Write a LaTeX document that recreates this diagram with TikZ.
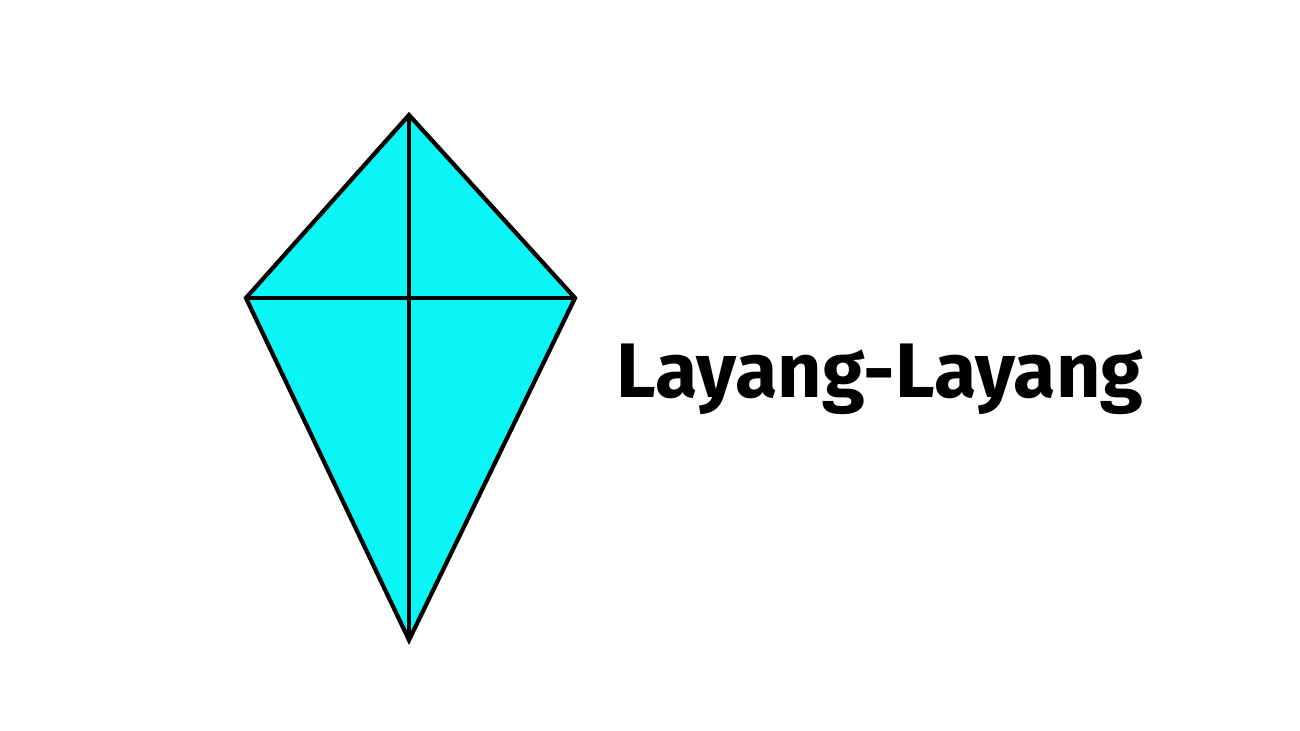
\documentclass[tikz,border=0pt]{standalone}
\usepackage{fontspec}
\setmainfont{Fira Sans}
\usepackage{tikz}
\definecolor{kitecyan}{RGB}{10,245,245}

\begin{document}
\begin{tikzpicture}[
    kite/.style={draw=black, fill=kitecyan, line width=1.2pt, line join=miter},
    diag/.style={draw=black, line width=1.2pt},
    title/.style={font=\fontsize{22}{26}\selectfont\bfseries, anchor=base, inner sep=0pt}
]
\useasboundingbox (0,0) rectangle (13,7.3);
\coordinate (top) at (4.09,6.15);
\coordinate (left) at (2.46,4.32);
\coordinate (right) at (5.75,4.32);
\coordinate (bottom) at (4.09,0.90);
\draw[kite] (top) -- (right) -- (bottom) -- (left) -- cycle;
\draw[diag] (top) -- (bottom);
\draw[diag] (left) -- (right);
\node[title] (name) at (8.80,3.33) {Layang-Layang};
\end{tikzpicture}
\end{document}
